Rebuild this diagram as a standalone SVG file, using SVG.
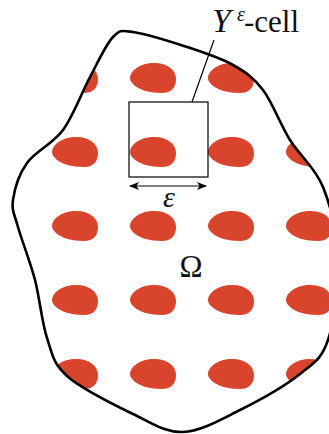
<svg xmlns="http://www.w3.org/2000/svg" xmlns:xlink="http://www.w3.org/1999/xlink" width="329" height="434" viewBox="0 0 329 434">
<style>
.blob{fill:#d9442c}
.edge{fill:none;stroke:#000;stroke-width:2.6}
.thin{fill:none;stroke:#000;stroke-width:1.2}
.t{font-family:"Liberation Serif","Times New Roman",serif;fill:#111}
</style>
<defs>
<path id="domain" d="M133,32 C145.3,33.7 170.3,41.5 187,47 C203.7,52.5 220.3,57.8 233,65 C245.7,72.2 253.5,77.5 263,90 C272.5,102.5 280,123.8 290,140 C300,156.2 315,167 323,187 C331,207 337.2,234.5 338,260 C338.8,285.5 334.3,321 328,340 C321.7,359 314.7,362.3 300,374 C285.3,385.7 259.5,400.3 240,410 C220.5,419.7 200.8,431.3 183,432 C165.2,432.7 152.3,423.3 133,414 C113.7,404.7 81.3,388.7 67,376 C52.7,363.3 52.3,354 47,338 C41.7,322 39.8,298.5 35,280 C30.2,261.5 21.7,240.3 18,227 C14.3,213.7 11.5,210.7 13,200 C14.5,189.3 18.7,174.7 27,163 C35.3,151.3 52.5,144.3 63,130 C73.5,115.7 81.7,92.5 90,77 C98.3,61.5 105.8,44.5 113,37 C120.2,29.5 120.7,30.3 133,32 Z"/>
<clipPath id="clip"><use xlink:href="#domain"/></clipPath>
<path id="b" class="blob" d="M-22.5,0 C-22.5,-7 -13,-15 2,-15 C15,-15 23.5,-8 23.5,1 C23.5,9 19.5,15 9,15 C-2,15 -13.5,12 -18.5,7 C-21.5,4 -22.5,2 -22.5,0 Z"/>
<marker id="ah" viewBox="0 0 10 8" refX="9" refY="4" markerWidth="10" markerHeight="8" markerUnits="userSpaceOnUse" orient="auto-start-reverse">
<path d="M0,0 L10,4 L0,8 L2.5,4 Z" fill="#000"/>
</marker>
</defs>
<g id="inclusions" clip-path="url(#clip)">
<use xlink:href="#b" x="74.5" y="78"/><use xlink:href="#b" x="152.5" y="78"/><use xlink:href="#b" x="230.5" y="78"/><use xlink:href="#b" x="308.5" y="78"/>
<use xlink:href="#b" x="74.5" y="152"/><use xlink:href="#b" x="152.5" y="152"/><use xlink:href="#b" x="230.5" y="152"/><use xlink:href="#b" x="308.5" y="152"/>
<use xlink:href="#b" x="74.5" y="226"/><use xlink:href="#b" x="152.5" y="226"/><use xlink:href="#b" x="230.5" y="226"/><use xlink:href="#b" x="308.5" y="226"/>
<use xlink:href="#b" x="74.5" y="300"/><use xlink:href="#b" x="152.5" y="300"/><use xlink:href="#b" x="230.5" y="300"/><use xlink:href="#b" x="308.5" y="300"/>
<use xlink:href="#b" x="74.5" y="374"/><use xlink:href="#b" x="152.5" y="374"/><use xlink:href="#b" x="230.5" y="374"/><use xlink:href="#b" x="308.5" y="374"/>
</g>
<g id="omega-boundary"><use xlink:href="#domain" class="edge"/></g>
<g id="cell"><rect class="thin" x="129" y="102" width="79" height="75"/></g>
<g id="connectors">
<line class="thin" x1="192" y1="102" x2="214" y2="40"/>
<line class="thin" x1="130" y1="186" x2="206" y2="186" marker-start="url(#ah)" marker-end="url(#ah)"/>
</g>
<g id="labels">
<text class="t" x="212" y="32" font-size="34" font-style="italic">Y</text>
<text class="t" x="237" y="21" font-size="20" font-style="italic">ε</text>
<text class="t" x="244" y="32" font-size="31">-cell</text>
<text class="t" x="169" y="207" font-size="30" font-style="italic" text-anchor="middle">ε</text>
<text class="t" x="191" y="277" font-size="31" text-anchor="middle">Ω</text>
</g>
</svg>
